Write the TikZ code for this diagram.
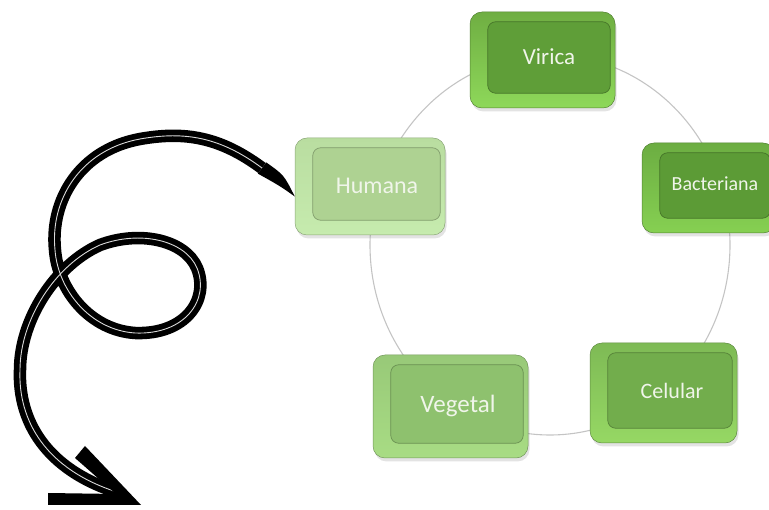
\documentclass[tikz,border=0pt]{standalone}
\usepackage{fontspec}
\setmainfont{Carlito}
\usetikzlibrary{shadows,shapes.geometric}
\definecolor{ringgray}{HTML}{C4C4C4}
\definecolor{labelc}{HTML}{F0F5EA}
\definecolor{virface}{HTML}{5F9E38}
\definecolor{virbev}{HTML}{6FAE42}
\definecolor{virlow}{HTML}{8ED85A}
\definecolor{humface}{HTML}{AED292}
\definecolor{humbev}{HTML}{B9DDA0}
\definecolor{humlow}{HTML}{C6EBAE}
\definecolor{bacface}{HTML}{5C9B36}
\definecolor{bacbev}{HTML}{6CAD42}
\definecolor{baclow}{HTML}{86D052}
\definecolor{vegface}{HTML}{8EC16E}
\definecolor{vegbev}{HTML}{98C978}
\definecolor{veglow}{HTML}{A8DC84}
\definecolor{celface}{HTML}{72AD4C}
\definecolor{celbev}{HTML}{7EBA55}
\definecolor{cellow}{HTML}{96D864}
\tikzset{
  ringline/.style={draw=ringgray, line width=1.1pt},
  outerbox/.style 2 args={rectangle, rounded corners=12pt, top color=#1, bottom color=#2,
     draw=#1!75!black, line width=0.5pt, inner sep=0pt,
     drop shadow={opacity=0.22, shadow xshift=1.5pt, shadow yshift=-3.5pt}},
  facebox/.style={rounded corners=8pt, fill=#1, draw=#1!75!black, line width=0.7pt},
  boxlabel/.style={text=labelc, inner sep=0pt},
  swirl/.style={draw=black, line width=5.8pt, double=white!85!black, double distance=0.9pt},
}
\begin{document}
\begin{tikzpicture}[x=1pt,y=-1pt]
\useasboundingbox (0,0) rectangle (769,510);
\clip (0,0) rectangle (769,510);
% ring
\node[ellipse, ringline, minimum width=360pt, minimum height=380pt, inner sep=0pt] (ring) at (550,245) {};
% Virica
\node[outerbox={virbev}{virlow}, minimum width=145pt, minimum height=96pt] (vir) at (542.5,60) {};
\path[facebox=virface] ([xshift=18pt,yshift=-10pt]vir.north west) rectangle ([xshift=-5pt,yshift=15pt]vir.south east);
\node[boxlabel, font=\fontsize{23}{23}\selectfont] (virt) at (549,57) {Virica};
% Humana
\node[outerbox={humbev}{humlow}, minimum width=150pt, minimum height=97pt] (hum) at (370,186.5) {};
\path[facebox=humface] ([xshift=18pt,yshift=-10pt]hum.north west) rectangle ([xshift=-5pt,yshift=15pt]hum.south east);
\node[boxlabel, font=\fontsize{24}{24}\selectfont] (humt) at (377,186) {Humana};
% Bacteriana
\node[outerbox={bacbev}{baclow}, minimum width=133pt, minimum height=90pt] (bac) at (708.5,188) {};
\path[facebox=bacface] ([xshift=18pt,yshift=-10pt]bac.north west) rectangle ([xshift=-5pt,yshift=15pt]bac.south east);
\node[boxlabel, font=\fontsize{20}{20}\selectfont] (bact) at (715,184) {Bacteriana};
% Vegetal
\node[outerbox={vegbev}{veglow}, minimum width=155pt, minimum height=103pt] (veg) at (450.5,406.5) {};
\path[facebox=vegface] ([xshift=18pt,yshift=-10pt]veg.north west) rectangle ([xshift=-5pt,yshift=15pt]veg.south east);
\node[boxlabel, font=\fontsize{25}{25}\selectfont] (vegt) at (458,406) {Vegetal};
% Celular
\node[outerbox={celbev}{cellow}, minimum width=147pt, minimum height=100pt] (cel) at (663.5,393) {};
\path[facebox=celface] ([xshift=18pt,yshift=-10pt]cel.north west) rectangle ([xshift=-5pt,yshift=15pt]cel.south east);
\node[boxlabel, font=\fontsize{22}{22}\selectfont] (celt) at (672,391) {Celular};
% swirl arrow
\coordinate (a0) at ([yshift=-10pt]hum.west);
\coordinate (a1) at (262,168);
\coordinate (a9) at (120,493);
\coordinate (tip) at (141,505);
\fill[black] (266.2,162.4) .. controls (284,175) .. (a0) .. controls (280,186) .. (257.8,173.6) -- cycle;
\draw[swirl] (a1) .. controls (220,137) and (185,131) .. (140,139)
  .. controls (80,150) and (50,200) .. (55,250)
  .. controls (58,290) and (90,330) .. (135,333)
  .. controls (185,335) and (210,300) .. (197,268)
  .. controls (185,240) and (140,230) .. (100,245)
  .. controls (55,265) and (20,320) .. (20,370)
  .. controls (18,420) and (45,470) .. (a9);
\fill[black] (tip) -- (85,446) -- (75,458) -- (116,494) -- (48,493) -- (48,505) -- cycle;
\end{tikzpicture}
\end{document}
